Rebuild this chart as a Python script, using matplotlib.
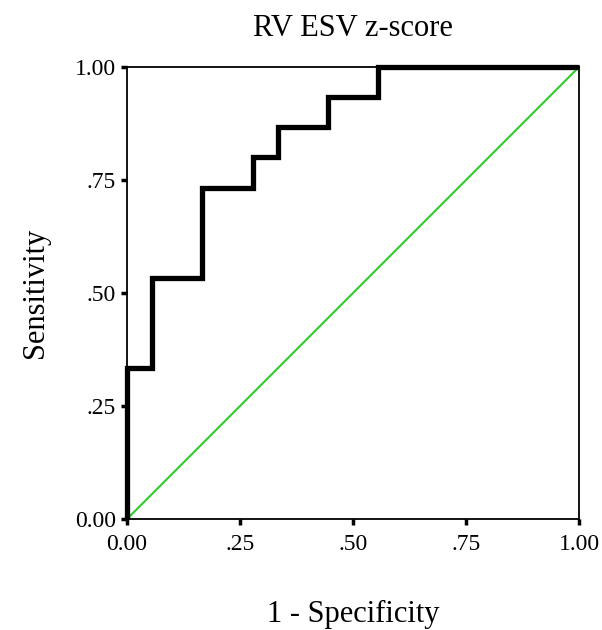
import matplotlib
matplotlib.use("Agg")
import matplotlib.pyplot as plt

# ROC curve corners
fpr = [0.0, 0.0, 0.056, 0.056, 0.167, 0.167, 0.278, 0.278, 0.333, 0.333,
       0.444, 0.444, 0.556, 0.556, 1.0]
tpr = [0.0, 0.333, 0.333, 0.533, 0.533, 0.733, 0.733, 0.800, 0.800, 0.867,
       0.867, 0.933, 0.933, 1.0, 1.0]
ref = [0.0, 1.0]
ticks = [0.0, 0.25, 0.5, 0.75, 1.0]
tick_labels = ['0.00', '.25', '.50', '.75', '1.00']

plt.rcParams['font.family'] = ['Liberation Serif', 'DejaVu Serif']

fig = plt.figure(figsize=(6.02, 6.3), dpi=100)
ax = fig.add_axes([127 / 602, 111 / 630, 452 / 602, 452 / 630])

ax.plot(ref, ref, color='#2fcc2f', lw=1.5, clip_on=False, zorder=2)
ax.plot(fpr, tpr, color='black', lw=3.8, clip_on=False, zorder=3,
        solid_joinstyle='miter', solid_capstyle='butt')

ax.set_xlim(0, 1)
ax.set_ylim(0, 1)
ax.set_xticks(ticks)
ax.set_xticklabels(tick_labels)
ax.set_yticks(ticks)
ax.set_yticklabels(tick_labels)
ax.tick_params(direction='out', length=4, width=2.5, labelsize=17, pad=4)
ax.tick_params(axis='x', pad=7)

for s in ax.spines.values():
    s.set_linewidth(1.3)

ax.set_title('RV ESV z-score', fontsize=22, pad=22)
ax.set_xlabel('1 - Specificity', fontsize=22, labelpad=32)
ax.set_ylabel('Sensitivity', fontsize=22, labelpad=18)

fig.savefig('out.png', dpi=100, facecolor='white')
